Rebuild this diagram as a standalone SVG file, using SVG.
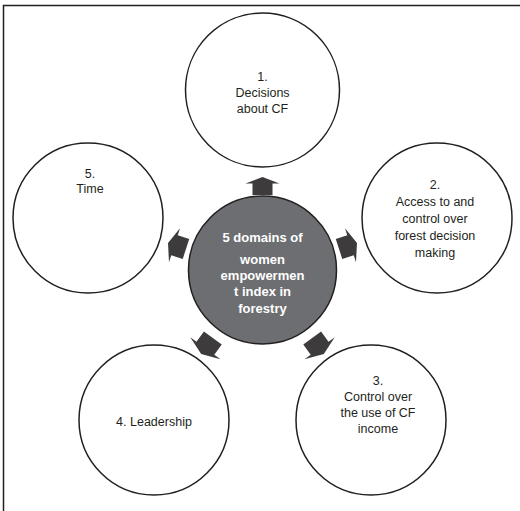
<svg xmlns="http://www.w3.org/2000/svg" width="520" height="511" viewBox="0 0 520 511">
  <style>
    .domain { fill: #ffffff; stroke: #231f20; stroke-width: 1.5; }
    .hub { fill: #6d6e71; stroke: #231f20; stroke-width: 1.5; }
    .lbl { font-family: "Liberation Sans", Arial, sans-serif; font-size: 12.5px; fill: #231f20; text-anchor: middle; }
    .hubtxt { font-family: "Liberation Sans", Arial, sans-serif; font-size: 13px; font-weight: bold; fill: #ffffff; text-anchor: middle; }
    .arrow { fill: #3d3b3c; }
  </style>
  <defs>
    <!-- block arrow pointing up, centred on the origin -->
    <path id="blockArrow" d="M0,-9 L17,-2.5 L10,-2.5 L10,9 L-10,9 L-10,-2.5 L-17,-2.5 Z"/>
  </defs>

  <!-- frame -->
  <path d="M3.5,511 L3.5,5.5 L520,5.5" fill="none" stroke="#231f20" stroke-width="1.5"/>

  <g id="connectors">
    <use href="#blockArrow" class="arrow" transform="translate(262.5,186)"/>
    <use href="#blockArrow" class="arrow" transform="translate(348,246) rotate(72) scale(1.05)"/>
    <use href="#blockArrow" class="arrow" transform="translate(318,346) rotate(144) scale(1.1)"/>
    <use href="#blockArrow" class="arrow" transform="translate(207,346) rotate(216) scale(1.1)"/>
    <use href="#blockArrow" class="arrow" transform="translate(177,246) rotate(288) scale(1.05)"/>
  </g>

  <g id="hub">
    <circle class="hub" cx="262.5" cy="270" r="74"/>
    <text class="hubtxt" x="262.5" y="242">5 domains of</text>
    <text class="hubtxt" x="262.5" y="264">women</text>
    <text class="hubtxt" x="262.5" y="280">empowermen</text>
    <text class="hubtxt" x="262.5" y="296">t index in</text>
    <text class="hubtxt" x="262.5" y="313">forestry</text>
  </g>

  <g id="domain1">
    <circle class="domain" cx="262.5" cy="90" r="77"/>
    <text class="lbl" x="262.5" y="81">1.</text>
    <text class="lbl" x="262.5" y="97">Decisions</text>
    <text class="lbl" x="262.5" y="113">about CF</text>
  </g>

  <g id="domain2">
    <circle class="domain" cx="437" cy="218" r="75"/>
    <text class="lbl" x="435" y="189">2.</text>
    <text class="lbl" x="435" y="206">Access to and</text>
    <text class="lbl" x="435" y="223">control over</text>
    <text class="lbl" x="435" y="240">forest decision</text>
    <text class="lbl" x="435" y="257">making</text>
  </g>

  <g id="domain3">
    <circle class="domain" cx="371" cy="420" r="75"/>
    <text class="lbl" x="378" y="385">3.</text>
    <text class="lbl" x="378" y="401">Control over</text>
    <text class="lbl" x="378" y="417">the use of CF</text>
    <text class="lbl" x="378" y="433">income</text>
  </g>

  <g id="domain4">
    <circle class="domain" cx="154" cy="420" r="75"/>
    <text class="lbl" x="154" y="426">4. Leadership</text>
  </g>

  <g id="domain5">
    <circle class="domain" cx="88" cy="218" r="75"/>
    <text class="lbl" x="90" y="178">5.</text>
    <text class="lbl" x="90" y="193">Time</text>
  </g>
</svg>
